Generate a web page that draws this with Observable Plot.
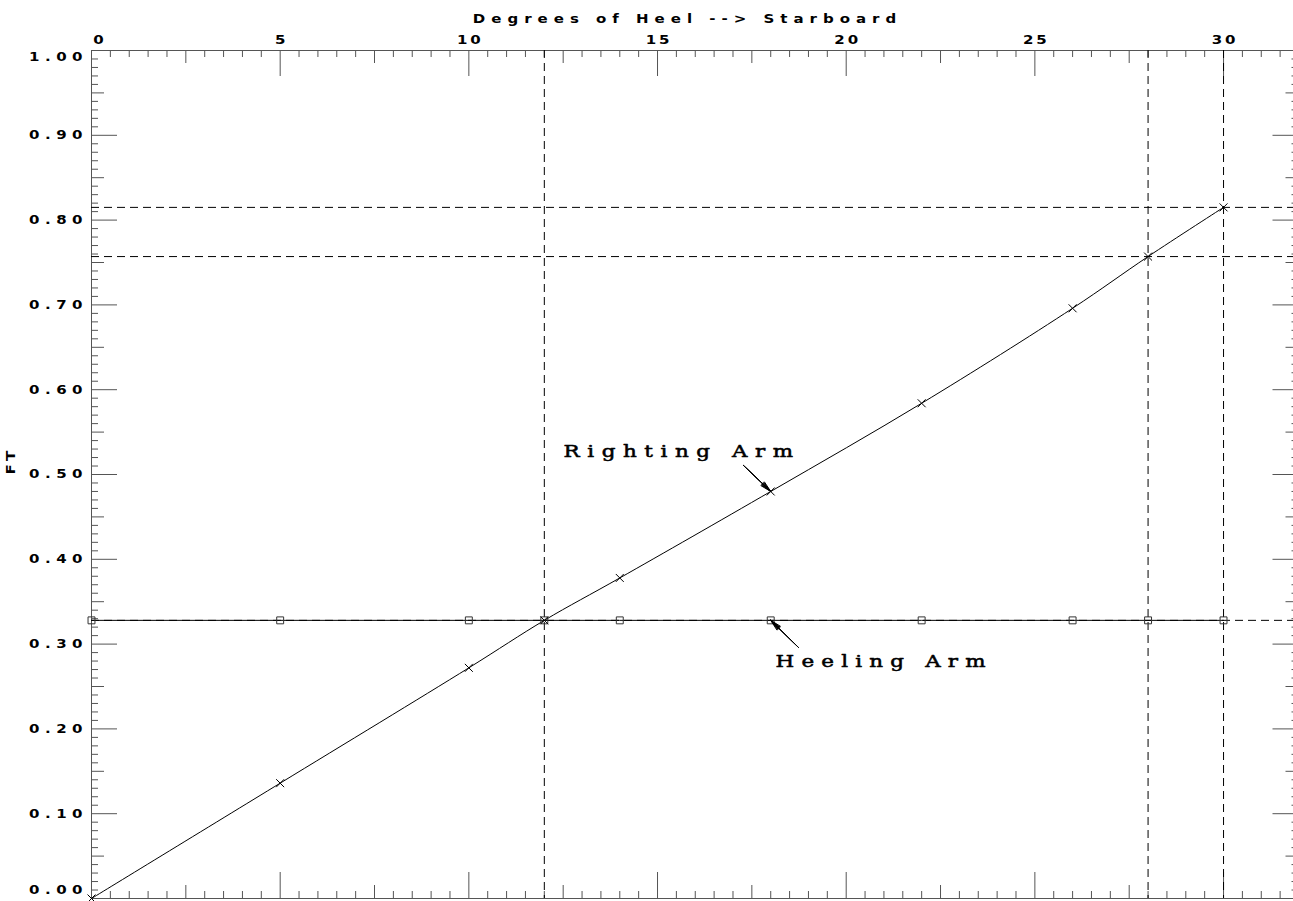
<!DOCTYPE html>
<html>
<head>
<meta charset="utf-8">
<script src="https://cdn.jsdelivr.net/npm/d3@7"></script>
<script src="https://cdn.jsdelivr.net/npm/@observablehq/plot@0.6"></script>
<style>
  body { margin: 0; background: #fff; }
  #chart { width: 1293px; height: 901px; overflow: hidden; position: relative; background: #fff; }
  #chart svg { max-width: none !important; }
</style>
</head>
<body>
<div id="chart"></div>
<script>
// Stability curve: righting arm vs. constant heeling arm
const heelDegrees = [0, 5, 10, 12, 14, 18, 22, 26, 28, 30];
const rightingArm = [0.000, 0.136, 0.272, 0.328, 0.378, 0.480, 0.584, 0.696, 0.757, 0.815];
const heelingArm  = [0.328, 0.328, 0.328, 0.328, 0.328, 0.328, 0.328, 0.328, 0.328, 0.328];
const markedAngles = [12, 28, 30];
const xTickLabels = [0, 5, 10, 15, 20, 25, 30];
const yTickLabels = [0, 0.1, 0.2, 0.3, 0.4, 0.5, 0.6, 0.7, 0.8, 0.9, 1.0];
const xTitle = "Degrees of Heel --> Starboard";
const yTitle = "FT";
const annotations = [
  {label: "Righting Arm", x: 12.51, y: 0.5264, fromX: 17.28, fromY: 0.5106, toAngle: 18, series: "righting"},
  {label: "Heeling Arm",  x: 18.13, y: 0.2788, fromX: 18.73, fromY: 0.2963, toAngle: 18, series: "heeling"}
];

const righting = heelDegrees.map((x, i) => ({x, y: rightingArm[i]}));
const heeling = heelDegrees.map((x, i) => ({x, y: heelingArm[i]}));
const valueAt = (series, deg) => (series === "righting" ? rightingArm : heelingArm)[heelDegrees.indexOf(deg)];
const arrows = annotations.map(a => ({x1: a.fromX, y1: a.fromY, x2: a.toAngle, y2: valueAt(a.series, a.toAngle)}));

// dashed reference levels: the crossing, and the righting arm at the marked angles
const levels = [heelingArm[heelDegrees.indexOf(12)], valueAt("righting", 28), valueAt("righting", 30)];

const W = 1299, H = 901, mL = 91, mR = 0.5, mT = 50, mB = 3;
const innerW = W - mL - mR, innerH = H - mT - mB;
const axisColor = "#555";

const xAll = d3.range(0, 64.5).map(i => i / 2);
const yAll = d3.range(0, 101).map(i => i / 100);
const xGroups = [
  [xAll.filter(v => v % 5 === 0), 26],
  [xAll.filter(v => v % 5 !== 0 && v % 2.5 === 0), 13],
  [xAll.filter(v => v % 2.5 !== 0), 7]
];
const yGroups = [
  [yAll.filter((v, i) => i % 10 === 0), 26],
  [yAll.filter((v, i) => i % 10 !== 0 && i % 5 === 0), 13],
  [yAll.filter((v, i) => i % 5 !== 0), 7]
];

const tickMarks = [];
for (const [vals, len] of xGroups) {
  tickMarks.push(Plot.tickX(vals, {x: d => d, insetBottom: innerH - len, stroke: axisColor, strokeWidth: 1}));
  tickMarks.push(Plot.tickX(vals, {x: d => d, insetTop: innerH - len, stroke: axisColor, strokeWidth: 1}));
}
for (const [vals, len] of yGroups) {
  tickMarks.push(Plot.tickY(vals, {y: d => d, insetRight: innerW - len, stroke: axisColor, strokeWidth: 1}));
  tickMarks.push(Plot.tickY(vals, {y: d => d, insetLeft: innerW - len, stroke: axisColor, strokeWidth: 1}));
}

const labelStyle = {fontFamily: "DejaVu Sans", fontWeight: "bold", fontSize: 12, fill: "#000", ariaDescription: "wide-label"};
const yInner = yTickLabels.slice(1, -1);

const chart = Plot.plot({
  width: W,
  height: H,
  marginLeft: mL,
  marginRight: mR,
  marginTop: mT,
  marginBottom: mB,
  x: {domain: [0, 32], axis: null},
  y: {domain: [0, 1], axis: null},
  style: {background: "#fff", maxWidth: "none"},
  marks: [
    Plot.frame({stroke: axisColor}),
    ...tickMarks,
    // tick labels
    Plot.text(xTickLabels.slice(1), {x: d => d, frameAnchor: "top", dy: -15, text: d => String(d), ...labelStyle}),
    Plot.text(xTickLabels.slice(0, 1), {x: d => d, frameAnchor: "top", dy: -15, dx: 7, text: d => String(d), ...labelStyle}),
    Plot.text(yInner, {y: d => d, frameAnchor: "left", textAnchor: "end", dx: -9, text: d => d.toFixed(2), ...labelStyle}),
    Plot.text(yTickLabels.slice(0, 1), {y: d => d, frameAnchor: "left", textAnchor: "end", dx: -9, dy: -8, text: d => d.toFixed(2), ...labelStyle}),
    Plot.text(yTickLabels.slice(-1), {y: d => d, frameAnchor: "left", textAnchor: "end", dx: -9, dy: 7, text: d => d.toFixed(2), ...labelStyle}),
    // axis titles
    Plot.text([xTitle], {frameAnchor: "top", dy: -36, dx: -10.75, text: d => d, ...labelStyle}),
    Plot.text([yTitle], {frameAnchor: "left", dx: -80, rotate: -90, text: d => d, ...labelStyle}),
    // dashed guides
    Plot.ruleX(markedAngles, {stroke: "#000", strokeWidth: 1, strokeDasharray: "8,5"}),
    Plot.ruleY(levels, {stroke: "#000", strokeWidth: 1, strokeDasharray: "8,5"}),
    // curves
    Plot.line(heeling, {x: "x", y: "y", stroke: "#000", strokeWidth: 1}),
    Plot.line(righting, {x: "x", y: "y", stroke: "#000", strokeWidth: 1, curve: "catmull-rom"}),
    Plot.dot(heeling, {x: "x", y: "y", symbol: "square", r: 3.9, stroke: "#333", fill: "none", strokeWidth: 1}),
    Plot.dot(righting, {x: "x", y: "y", symbol: "times", r: 3.7, stroke: "#000", strokeWidth: 1}),
    // annotations
    ...[6, 12, 18, 26].map(angle => Plot.arrow(arrows, {x1: "x1", y1: "y1", x2: "x2", y2: "y2", headAngle: angle, headLength: 17, stroke: "#000", strokeWidth: 1})),
    Plot.text(annotations, {x: "x", y: "y", text: "label", textAnchor: "start", fontFamily: "DejaVu Serif", fontSize: 16.5, fill: "#000", stroke: "#000", strokeWidth: 0.5, ariaDescription: "annotation"})
  ]
});

// The lettering is wide and widely tracked: widen each glyph horizontally
// and stretch the spacing so a string spans (n - 1) * pitch + glyph width.
const lettering = {
  "wide-label": {sx: 1.25, pitch: 14.8, glyph: 9},
  "annotation": {sx: 1.3, pitch: 19.6, glyph: 14}
};
for (const [group, {sx, pitch, glyph}] of Object.entries(lettering)) {
  chart.querySelectorAll(`g[aria-description="${group}"] text`).forEach(t => {
    const n = t.textContent.length;
    const xAttr = t.getAttribute("x");
    const x = xAttr !== null && isFinite(+xAttr) ? +xAttr : 0;
    if (xAttr !== null && isFinite(+xAttr)) t.removeAttribute("x");
    const tr = t.getAttribute("transform") || "";
    t.setAttribute("transform", `${tr} translate(${x},0) scale(${sx},1)`);
    if (n > 1) {
      t.setAttribute("textLength", (((n - 1) * pitch + glyph) / sx).toFixed(2));
      t.setAttribute("lengthAdjust", "spacing");
    }
  });
}

document.getElementById("chart").appendChild(chart);
</script>
</body>
</html>
